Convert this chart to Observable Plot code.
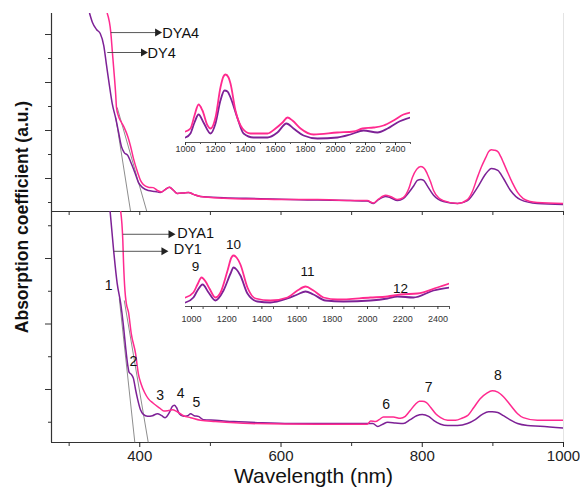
<!DOCTYPE html>
<html><head><meta charset="utf-8">
<script src="https://cdn.jsdelivr.net/npm/d3@7"></script>
<script src="https://cdn.jsdelivr.net/npm/@observablehq/plot@0.6"></script>
<style>
body{margin:0;background:#fff;}
#chart{position:relative;width:580px;height:490px;background:#fff;overflow:hidden;}
#chart svg{position:absolute;left:0;}
</style></head><body><div id="chart"></div>
<script>
const FONT = "'Liberation Sans', Arial, Helvetica, sans-serif";
const MAGENTA = "#ff2a8f", PURPLE = "#7d2196", AX = "#333";

// ---- scales / ticks ----
const xDomain = [275, 1000];
const xMajor = [400, 600, 800, 1000];
const xMinor = [300, 500, 700, 900];
const yTopDomain = [0.3125, 4.4375];
const yTopMajor = [1, 2, 3, 4];
const yTopMinor = [0.5, 1.5, 2.5, 3.5];
const yBotDomain = [0.1908, 3.7176];
const yBotMajor = [1, 2, 3];
const yBotMinor = [0.5, 1.5, 2.5, 3.5];
const insetDomain = [1000, 2500];
const insetMajor = [1000, 1200, 1400, 1600, 1800, 2000, 2200, 2400];
const insetMinor = [1100, 1300, 1500, 1700, 1900, 2100, 2300, 2500];

// ---- top panel spectra (wavelength nm, absorption a.u.) ----
const topDY4 = [[329,4.44],[333,4.25],[339,4.10],[344,4.02],[349,3.77],[353,3.35],[357,2.94],[361,2.56],[366,2.25],[370,1.96],[374,1.67],[378,1.54],[383,1.48],[387,1.35],[393,1.125],[398,0.92],[404,0.81],[412,0.75],[422,0.73],[429,0.71],[436,0.77],[442,0.82],[448,0.75],[453,0.69],[462,0.70],[469,0.71],[476,0.67],[486,0.625],[519,0.60],[571,0.58],[613,0.56],[652,0.55],[698,0.54],[722,0.53],[731,0.48],[738,0.56],[748,0.625],[755,0.60],[765,0.54],[773,0.58],[781,0.71],[788,0.85],[793,0.96],[798,0.98],[802,0.96],[807,0.85],[816,0.65],[830,0.52],[850,0.48],[864,0.54],[878,0.81],[890,1.10],[898,1.21],[907,1.17],[915,1.0],[925,0.75],[939,0.56],[963,0.48],[1000,0.46]];
const topDYA4 = [[354,4.44],[359,4.04],[361,3.67],[363,3.31],[366,2.73],[367,2.48],[370,2.29],[374,2.17],[378,2.06],[383,1.875],[387,1.67],[391,1.42],[397,1.125],[401,0.96],[405,0.875],[412,0.82],[419,0.81],[425,0.75],[431,0.72],[436,0.77],[442,0.82],[448,0.75],[453,0.69],[462,0.70],[469,0.71],[476,0.67],[486,0.625],[519,0.59],[571,0.57],[613,0.56],[652,0.56],[698,0.54],[722,0.54],[731,0.49],[738,0.57],[748,0.65],[755,0.625],[765,0.56],[773,0.60],[781,0.79],[786,1.02],[792,1.19],[798,1.25],[803,1.21],[807,1.10],[812,0.92],[816,0.75],[823,0.60],[830,0.54],[850,0.48],[864,0.56],[871,0.73],[878,1.02],[884,1.25],[890,1.44],[894,1.56],[898,1.60],[902,1.59],[907,1.56],[911,1.46],[915,1.33],[921,1.125],[928,0.90],[935,0.71],[943,0.58],[953,0.52],[963,0.50],[1000,0.48]];
const topTangents = [[366,2.27,387,0.3125],[368,2.48,410,0.3125]];

// ---- bottom panel spectra ----
const botDY1 = [[358,3.72],[363,3.12],[368,2.62],[373,2.31],[377,1.96],[380,1.64],[383,1.37],[385,1.26],[388,1.23],[391,1.17],[394,1.00],[397,0.85],[401,0.69],[405,0.62],[411,0.59],[418,0.60],[425,0.63],[431,0.60],[436,0.57],[442,0.65],[446,0.74],[449,0.76],[452,0.725],[456,0.63],[462,0.59],[468,0.60],[472,0.63],[477,0.60],[483,0.59],[490,0.54],[507,0.53],[533,0.51],[557,0.50],[613,0.48],[652,0.48],[698,0.48],[730,0.48],[737,0.435],[744,0.47],[751,0.50],[762,0.49],[773,0.48],[783,0.54],[792,0.60],[800,0.62],[809,0.59],[816,0.53],[826,0.47],[836,0.45],[850,0.45],[864,0.48],[875,0.54],[885,0.62],[894,0.66],[899,0.66],[907,0.65],[915,0.60],[924,0.54],[935,0.48],[949,0.45],[967,0.44],[1000,0.41]];
const botDYA1 = [[373,3.72],[376,3.27],[377,2.94],[379,2.51],[381,2.31],[384,2.18],[388,1.85],[394,1.55],[398,1.24],[402,1.08],[407,0.95],[412,0.86],[419,0.79],[429,0.71],[434,0.67],[441,0.68],[446,0.69],[453,0.66],[462,0.60],[472,0.57],[486,0.53],[507,0.51],[557,0.48],[652,0.47],[722,0.47],[727,0.52],[734,0.51],[739,0.54],[745,0.58],[752,0.58],[759,0.58],[769,0.56],[776,0.59],[783,0.68],[790,0.77],[796,0.82],[800,0.82],[806,0.80],[812,0.725],[819,0.63],[826,0.57],[836,0.53],[847,0.53],[857,0.565],[864,0.60],[873,0.725],[882,0.86],[891,0.94],[899,0.98],[907,0.96],[915,0.89],[925,0.76],[935,0.63],[943,0.57],[963,0.53],[1000,0.53]];
const botTangents = [[371,2.39,393,0.1908],[378,2.36,412,0.1908]];

// ---- insets (NIR) ----
const insTopDY4 = [[1000,0.5],[1033,0.9],[1060,2.0],[1087,2.8],[1120,2.0],[1167,0.9],[1200,1.9],[1233,4.2],[1260,5.2],[1280,5.1],[1300,4.5],[1347,2.4],[1387,0.9],[1453,0.5],[1547,0.5],[1613,1.0],[1673,1.9],[1720,1.4],[1787,0.7],[1880,0.4],[2013,0.5],[2100,0.8],[2187,1.2],[2280,1.0],[2347,1.4],[2413,2.0],[2500,2.5]];
const insTopDYA4 = [[1000,1.1],[1033,1.4],[1060,2.7],[1087,3.8],[1113,3.2],[1147,1.7],[1167,1.4],[1200,2.5],[1233,5.5],[1253,6.6],[1267,6.8],[1287,6.5],[1300,5.9],[1333,3.2],[1380,1.4],[1433,0.9],[1547,0.9],[1600,1.4],[1647,2.0],[1680,2.5],[1713,2.2],[1767,1.4],[1853,0.8],[2013,1.0],[2120,1.1],[2180,1.4],[2253,1.5],[2320,1.7],[2387,2.2],[2453,2.8],[2500,3.0]];
const insBotDY1 = [[1000,0.4],[1045,0.9],[1068,1.6],[1097,2.2],[1131,1.4],[1170,0.6],[1216,1.6],[1256,3.3],[1273,3.9],[1290,3.7],[1312,3.1],[1352,1.3],[1409,0.5],[1483,0.4],[1579,0.8],[1636,1.2],[1682,1.5],[1727,1.2],[1795,0.6],[1897,0.5],[2051,0.6],[2147,0.8],[2204,1.0],[2295,0.9],[2409,1.6],[2500,1.9]];
const insBotDYA1 = [[1000,0.9],[1045,1.4],[1068,2.2],[1091,2.9],[1114,2.5],[1136,1.8],[1170,0.9],[1199,1.4],[1239,3.6],[1261,4.9],[1273,5.1],[1290,4.9],[1312,4.2],[1352,1.9],[1398,0.8],[1483,0.6],[1579,0.9],[1636,1.6],[1682,2.0],[1727,1.6],[1784,0.9],[1863,0.7],[2051,0.9],[2147,1.0],[2221,1.2],[2318,1.3],[2431,1.9],[2500,2.3]];

// ---- annotations ----
const topArrows = [
  {x1: 359, x2: 425, y: 4.04, label: "DYA4", lx: 432, ly: 4.02},
  {x1: 354, x2: 405, y: 3.625, label: "DY4", lx: 411, ly: 3.6}
];
const botArrows = [
  {x1: 376, x2: 444, y: 3.37, label: "DYA1", lx: 453, ly: 3.39},
  {x1: 363, x2: 434, y: 3.11, label: "DY1", lx: 448, ly: 3.14}
];
const bandLabels = [["1",356,2.59],["2",391,1.43],["3",429,0.91],["4",458,0.94],["5",480,0.80],["6",749,0.77],["7",809,1.03],["8",907,1.21]];
const insetBandLabels = [["9",1057,4.0],["10",1273,6.2],["11",1693,3.5],["12",2221,1.8]];
const xTitle = "Wavelength (nm)";
const yTitle = "Absorption coefficient (a.u.)";

// ---- helpers ----
const toXY = a => a.map(([x, y]) => ({x, y}));
const toLink = a => a.map(([x1, y1, x2, y2]) => ({x1, y1, x2, y2}));
const toLab = a => a.map(([t, x, y]) => ({t, x, y}));
const noLab = () => "";
const baseStyle = {background: "transparent", overflow: "visible", fontFamily: FONT};

function spectra(p, m, w) {
  return [
    Plot.line(toXY(p), {x: "x", y: "y", stroke: PURPLE, strokeWidth: w, curve: "monotone-x", clip: true}),
    Plot.line(toXY(m), {x: "x", y: "y", stroke: MAGENTA, strokeWidth: w, curve: "monotone-x", clip: true})
  ];
}
function arrows(a) {
  return [
    Plot.link(a, {x1: "x1", x2: "x2", y1: "y", y2: "y", stroke: "#444", strokeWidth: 0.9}),
    Plot.dot(a, {x: "x2", y: "y", symbol: "triangle", rotate: 90, r: 3, fill: "#222", stroke: "none"}),
    Plot.text(a, {x: "lx", y: "ly", text: "label", textAnchor: "start", fontSize: 14.5, fill: "#111"})
  ];
}
function yTicks(major, minor) {
  return [
    Plot.axisY(major, {tickSize: 6, tickFormat: noLab, label: null, color: AX}),
    Plot.axisY(minor, {tickSize: 3, tickFormat: noLab, label: null, color: AX})
  ];
}

const chart = document.getElementById("chart");
function place(svg, top) { svg.style.top = top + "px"; chart.appendChild(svg); }

// ---- top panel ----
place(Plot.plot({
  width: 580, height: 211, marginLeft: 51, marginRight: 17, marginTop: 13, marginBottom: 0,
  style: baseStyle,
  x: {domain: xDomain, axis: null},
  y: {domain: yTopDomain, axis: null},
  marks: [
    Plot.ruleX([xDomain[1]], {stroke: "#e4e4e4"}),
    Plot.ruleX([xDomain[0]], {stroke: AX, strokeWidth: 1.2}),
    ...yTicks(yTopMajor, yTopMinor),
    Plot.link(toLink(topTangents), {x1: "x1", y1: "y1", x2: "x2", y2: "y2", stroke: "#707070", strokeWidth: 0.8}),
    ...spectra(topDY4, topDYA4, 1.5),
    ...arrows(topArrows)
  ]
}), 0);

// ---- top inset ----
place(Plot.plot({
  width: 580, height: 211, marginLeft: 185, marginRight: 170, marginTop: 62, marginBottom: 69,
  style: baseStyle,
  x: {domain: insetDomain, axis: null},
  y: {domain: [0, 8], axis: null},
  marks: [
    Plot.ruleY([0], {stroke: "#555"}),
    Plot.axisX(insetMajor, {tickSize: 3, tickPadding: 0, fontSize: 9, color: "#333", label: null, tickFormat: d => String(d)}),
    Plot.axisX(insetMinor, {tickSize: 2, tickFormat: noLab, color: "#555", label: null}),
    ...spectra(insTopDY4, insTopDYA4, 1.8)
  ]
}), 0);

// ---- bottom panel ----
place(Plot.plot({
  width: 580, height: 279, marginLeft: 51, marginRight: 17, marginTop: 0, marginBottom: 48,
  style: baseStyle,
  x: {domain: xDomain, axis: null},
  y: {domain: yBotDomain, axis: null},
  marks: [
    Plot.ruleX([xDomain[1]], {stroke: "#e4e4e4"}),
    Plot.ruleX([xDomain[0]], {stroke: AX, strokeWidth: 1.2}),
    Plot.ruleY([yBotDomain[0]], {stroke: AX, strokeWidth: 1.2}),
    Plot.ruleY([yBotDomain[1]], {stroke: AX, strokeWidth: 1.2}),
    Plot.axisX(xMajor, {tickSize: 5, tickPadding: 3, fontSize: 15, color: "#222", label: null, tickFormat: d => String(d)}),
    Plot.axisX(xMinor, {tickSize: 4, tickFormat: noLab, color: AX, label: null}),
    Plot.tickX(xMajor.concat(xMinor), {x: d => d, insetBottom: 227, stroke: AX}),
    ...yTicks(yBotMajor, yBotMinor),
    Plot.link(toLink(botTangents), {x1: "x1", y1: "y1", x2: "x2", y2: "y2", stroke: "#707070", strokeWidth: 0.8}),
    ...spectra(botDY1, botDYA1, 1.5),
    ...arrows(botArrows),
    Plot.text(toLab(bandLabels), {x: "x", y: "y", text: "t", fontSize: 14, fill: "#111"}),
    Plot.text([xTitle], {text: d => d, frameAnchor: "bottom", textAnchor: "middle", lineAnchor: "middle", dy: 34, dx: 6, fontSize: 21, fill: "#111"}),
    Plot.text([yTitle], {text: d => d, frameAnchor: "left", textAnchor: "middle", lineAnchor: "middle", rotate: -90, dx: -29, dy: -110, fontSize: 17.5, fontWeight: "bold", fill: "#111"})
  ]
}), 211);

// ---- bottom inset ----
place(Plot.plot({
  width: 580, height: 279, marginLeft: 185, marginRight: 131, marginTop: 15, marginBottom: 184,
  style: baseStyle,
  x: {domain: insetDomain, axis: null},
  y: {domain: [0, 8], axis: null},
  marks: [
    Plot.ruleY([0], {stroke: "#555"}),
    Plot.axisX(insetMajor, {tickSize: 3, tickPadding: 6, fontSize: 9, dx: 6, color: "#333", label: null, tickFormat: d => String(d)}),
    Plot.axisX(insetMinor, {tickSize: 3, tickFormat: noLab, color: "#555", label: null}),
    ...spectra(insBotDY1, insBotDYA1, 1.8),
    Plot.text(toLab(insetBandLabels), {x: "x", y: "y", text: "t", fontSize: 13.5, fill: "#111"})
  ]
}), 211);
</script></body></html>
